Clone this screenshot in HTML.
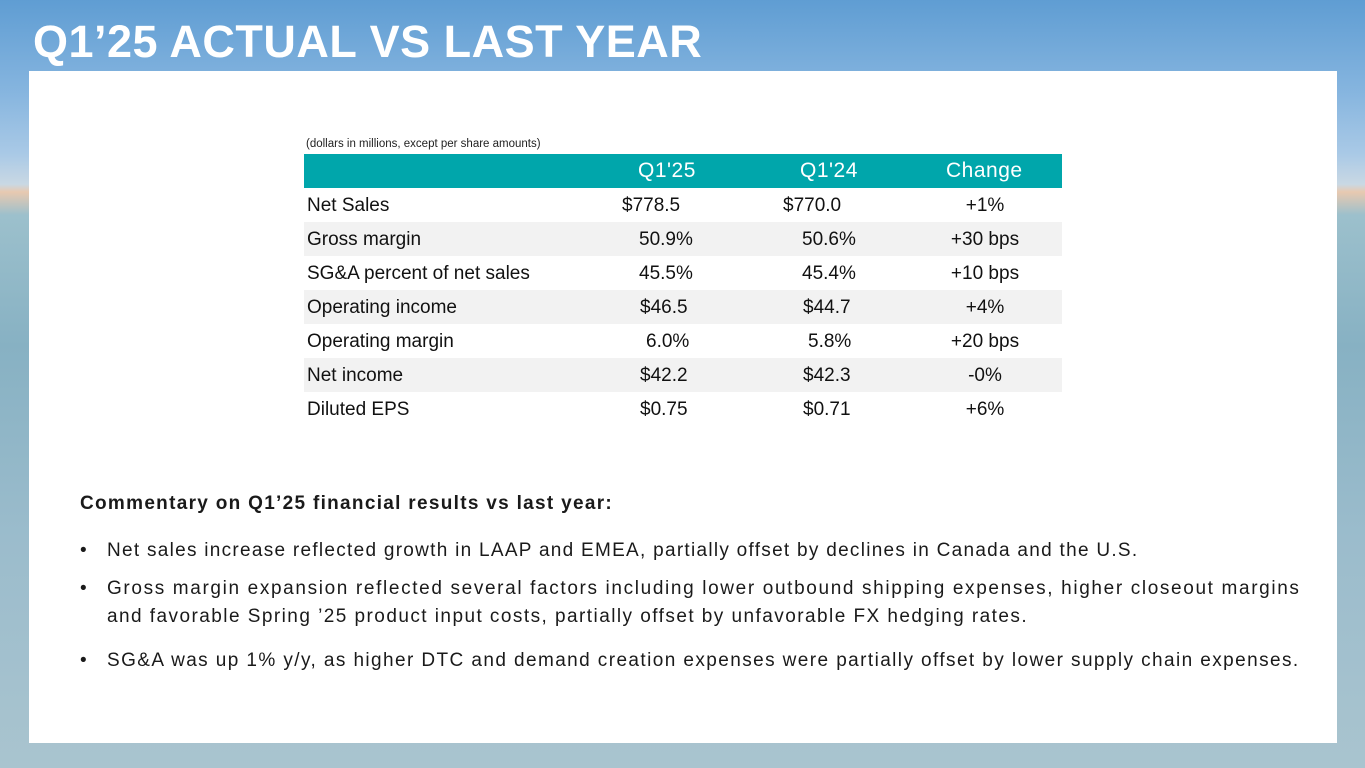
<!DOCTYPE html>
<html><head><meta charset="utf-8"><style>
*{margin:0;padding:0;box-sizing:border-box}
body{width:1365px;height:768px;overflow:hidden;position:relative;font-family:"Liberation Sans",sans-serif;
background:linear-gradient(180deg,#5f9dd3 0%,#86b5df 12%,#a9c9e6 20%,#c9d8e4 24%,#e8c9b0 25%,#9cc0cc 28%,#87b1c3 45%,#9bbccc 70%,#a9c4cf 100%);}
.title{position:absolute;left:33px;top:16px;font-size:45px;font-weight:bold;color:#fff;letter-spacing:0.5px;}
.panel{position:absolute;left:29px;top:71px;width:1308px;height:672px;background:#fff;}
.a{position:absolute;white-space:nowrap}
.note{font-size:11.5px;color:#222;left:306px;top:138px}
.hdr{left:304px;top:154px;width:758px;height:34px;background:#00a6ab}
.h{color:#fff;font-size:21px;top:159px;letter-spacing:0.5px}
.row{position:absolute;left:304px;width:758px;height:34px}
.g{background:#f2f2f2}
.t{font-size:19px;color:#111}
.c{font-size:19px;color:#111;width:100px;text-align:center}
.cm{font-size:19px;color:#1a1a1a;left:80px;letter-spacing:1.3px}
.b{font-size:19px;color:#1a1a1a}
</style></head><body>
<div class="title">Q1’25 ACTUAL VS LAST YEAR</div>
<div class="panel"></div>
<div class="a note">(dollars in millions, except per share amounts)</div>
<div class="a hdr"></div>
<div class="a h" style="left:638px">Q1'25</div>
<div class="a h" style="left:800px">Q1'24</div>
<div class="a h" style="left:946px">Change</div>
<div class="row g" style="top:222px"></div>
<div class="row g" style="top:290px"></div>
<div class="row g" style="top:358px"></div>

<div class="a t" style="left:307px;top:195px">Net Sales</div>
<div class="a t" style="left:622px;top:195px">$778.5</div>
<div class="a t" style="left:783px;top:195px">$770.0</div>
<div class="a c" style="left:935px;top:195px">+1%</div>

<div class="a t" style="left:307px;top:229px">Gross margin</div>
<div class="a t" style="left:639px;top:229px">50.9%</div>
<div class="a t" style="left:802px;top:229px">50.6%</div>
<div class="a c" style="left:935px;top:229px">+30 bps</div>

<div class="a t" style="left:307px;top:263px">SG&amp;A percent of net sales</div>
<div class="a t" style="left:639px;top:263px">45.5%</div>
<div class="a t" style="left:802px;top:263px">45.4%</div>
<div class="a c" style="left:935px;top:263px">+10 bps</div>

<div class="a t" style="left:307px;top:297px">Operating income</div>
<div class="a t" style="left:640px;top:297px">$46.5</div>
<div class="a t" style="left:803px;top:297px">$44.7</div>
<div class="a c" style="left:935px;top:297px">+4%</div>

<div class="a t" style="left:307px;top:331px">Operating margin</div>
<div class="a t" style="left:646px;top:331px">6.0%</div>
<div class="a t" style="left:808px;top:331px">5.8%</div>
<div class="a c" style="left:935px;top:331px">+20 bps</div>

<div class="a t" style="left:307px;top:365px">Net income</div>
<div class="a t" style="left:640px;top:365px">$42.2</div>
<div class="a t" style="left:803px;top:365px">$42.3</div>
<div class="a c" style="left:935px;top:365px">-0%</div>

<div class="a t" style="left:307px;top:399px">Diluted EPS</div>
<div class="a t" style="left:640px;top:399px">$0.75</div>
<div class="a t" style="left:803px;top:399px">$0.71</div>
<div class="a c" style="left:935px;top:399px">+6%</div>

<div class="a cm" style="top:493px;font-weight:bold">Commentary on Q1’25 financial results vs last year:</div>
<div class="a b" style="left:80px;top:540px">•</div>
<div class="a b" style="left:107px;top:540px;letter-spacing:1.28px">Net sales increase reflected growth in LAAP and EMEA, partially offset by declines in Canada and the U.S.</div>
<div class="a b" style="left:80px;top:578px">•</div>
<div class="a b" style="left:107px;top:578px;letter-spacing:1.64px">Gross margin expansion reflected several factors including lower outbound shipping expenses, higher closeout margins</div>
<div class="a b" style="left:107px;top:606px;letter-spacing:1.45px">and favorable Spring ’25 product input costs, partially offset by unfavorable FX hedging rates.</div>
<div class="a b" style="left:80px;top:650px">•</div>
<div class="a b" style="left:107px;top:650px;letter-spacing:1.41px">SG&amp;A was up 1% y/y, as higher DTC and demand creation expenses were partially offset by lower supply chain expenses.</div>
</body></html>
